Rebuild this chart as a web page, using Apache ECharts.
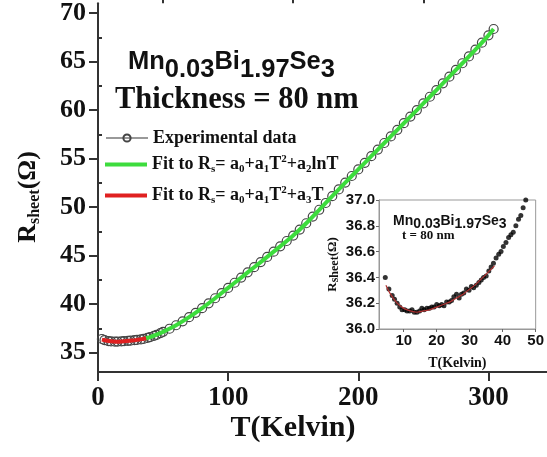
<!DOCTYPE html>
<html>
<head>
<meta charset="utf-8">
<script src="https://cdn.jsdelivr.net/npm/echarts@6/dist/echarts.min.js"></script>
<style>html,body{margin:0;padding:0;background:#fff}#c{width:547px;height:457px}</style>
</head>
<body>
<div id="c"></div>
<script>
// ---- Main chart data ----
const mainT = [3,5,8,10,13,15,18,20,23,25,28,30,33,35,38,40,43,45,48,50,55,60,65,70,75,80,85,90,95,100,105,110,115,120,125,130,135,140,145,150,155,160,165,170,175,180,185,190,195,200,205,210,215,220,225,230,235,240,245,250,255,260,265,270,275,280,285,290,295,300,304];
const mainR = [36.40,36.28,36.19,36.15,36.13,36.14,36.16,36.18,36.21,36.23,36.28,36.31,36.36,36.41,36.51,36.60,36.73,36.83,37.00,37.14,37.46,37.82,38.22,38.65,39.10,39.58,40.08,40.60,41.13,41.67,42.20,42.73,43.27,43.80,44.33,44.86,45.40,45.95,46.50,47.06,47.68,48.33,49.02,49.72,50.42,51.12,51.82,52.52,53.20,53.88,54.56,55.24,55.92,56.60,57.28,57.96,58.64,59.32,60.00,60.68,61.37,62.06,62.75,63.44,64.13,64.82,65.52,66.22,66.94,67.70,68.35];
const fitLnT_T = [36,40,45,50,60,70,80,90,100,110,120,130,140,150,160,170,180,190,200,210,220,230,240,250,260,270,280,290,300,304];
const fitLnT_R = [36.45,36.60,36.85,37.14,37.82,38.65,39.58,40.60,41.67,42.73,43.80,44.86,45.95,47.06,48.33,49.72,51.12,52.52,53.88,55.24,56.60,57.96,59.32,60.68,62.06,63.44,64.82,66.22,67.70,68.35];
const fitT_T = [3,6,10,14,18,22,26,30,34,37];
const fitT_R = [36.34,36.25,36.16,36.13,36.15,36.19,36.24,36.31,36.39,36.48];
const mainXMajor = [0,100,200,300];
const mainXMinor = [50,150,250];
const mainYMajor = [35,40,45,50,55,60,65,70];
const mainYMinor = [37.5,42.5,47.5,52.5,57.5,62.5,67.5];

// ---- Inset data ----
const insetT = [4.4,5.5,6.5,7.2,8.0,8.8,9.5,10.3,11.0,11.8,12.5,13.2,14.0,14.8,15.5,16.2,17.0,17.8,18.5,19.2,20.0,20.8,21.5,22.2,23.0,23.8,24.5,25.2,26.0,26.8,27.5,28.2,29.0,29.8,30.5,31.2,32.0,32.8,33.5,34.2,35.0,35.8,36.5,37.2,38.0,38.8,39.5,40.2,41.0,41.8,42.5,43.2,44.0,44.8,45.5,46.2,47.0];
const insetR = [36.40,36.31,36.26,36.23,36.20,36.17,36.15,36.15,36.14,36.14,36.15,36.13,36.13,36.14,36.16,36.15,36.16,36.16,36.17,36.17,36.19,36.18,36.19,36.18,36.21,36.21,36.22,36.25,36.27,36.24,36.27,36.28,36.31,36.30,36.33,36.32,36.34,36.36,36.38,36.40,36.41,36.45,36.48,36.51,36.55,36.58,36.60,36.64,36.67,36.71,36.73,36.75,36.80,36.85,36.88,36.94,37.00];
const insetFitT = [4.6,6,8,10,12,14,16,18,20,22,24,26,28,30,32,34,36,37.5];
const insetFitR = [36.34,36.27,36.20,36.16,36.14,36.13,36.14,36.15,36.17,36.19,36.21,36.24,36.27,36.31,36.35,36.40,36.45,36.49];
const insetXTicks = [10,20,30,40,50];
const insetYTicks = [36.0,36.2,36.4,36.6,36.8,37.0];

const zip = (a,b) => a.map((v,i)=>[v,b[i]]);
const serif = 'Liberation Serif';
const sans = 'Liberation Sans';
const axisCol = '#333';

const chart = echarts.init(document.getElementById('c'), null, {renderer:'canvas'});

const legSub = {fontFamily:serif,fontWeight:'bold',fontSize:11,color:'#111',padding:[9,0,0,0]};
const legSup = {fontFamily:serif,fontWeight:'bold',fontSize:11,color:'#111',padding:[0,0,10,0]};
const legText = {fontFamily:serif,fontWeight:'bold',fontSize:18,color:'#111',rich:{s:legSub,p:legSup}};

const names = {
  exp:'Experimental data',
  g:'Fit to Rs= a0+a1T2+a2lnT',
  r:'Fit to Rs= a0+a1T2+a3T'
};
const fmt = n => {
  if (n === names.g) return 'Fit to R{s|s}= a{s|0}+a{s|1}T{p|2}+a{s|2}lnT';
  if (n === names.r) return 'Fit to R{s|s}= a{s|0}+a{s|1}T{p|2}+a{s|3}T';
  return n;
};
const barIcon = 'path://M0,0L42,0L42,4L0,4Z';

const option = {
  animation:false,
  backgroundColor:'#fff',
  grid:[
    {left:98, top:2, right:0, bottom:85},
    {left:379, top:200, right:5, bottom:128, show:true, borderColor:'#999', borderWidth:1, backgroundColor:'transparent'}
  ],
  xAxis:[
    {type:'value', gridIndex:0, min:0, max:345,
     axisLine:{lineStyle:{color:axisCol,width:2}},
     axisTick:{customValues:mainXMajor, length:9, lineStyle:{color:axisCol,width:2}},
     axisLabel:{customValues:mainXMajor, fontFamily:serif, fontWeight:'bold', fontSize:27, color:'#111', margin:13},
     splitLine:{show:false}},
    {type:'value', gridIndex:0, min:0, max:345,
     axisLine:{show:false},
     axisTick:{customValues:mainXMinor, length:4, lineStyle:{color:axisCol,width:2}},
     axisLabel:{show:false}, splitLine:{show:false}},
    {type:'value', gridIndex:1, min:2.5, max:50,
     axisLine:{lineStyle:{color:'#999',width:1}},
     axisTick:{customValues:insetXTicks, length:3, lineStyle:{color:'#666'}},
     axisLabel:{customValues:insetXTicks, fontFamily:sans, fontWeight:'bold', fontSize:15, color:'#111', margin:4},
     splitLine:{show:false},
     name:'T(Kelvin)', nameLocation:'middle', nameGap:27,
     nameTextStyle:{fontFamily:serif, fontWeight:'bold', fontSize:14, color:'#111'}}
  ],
  yAxis:[
    {type:'value', gridIndex:0, min:33, max:71,
     axisLine:{show:true, lineStyle:{color:axisCol,width:2}},
     axisTick:{show:true, customValues:mainYMajor, length:9, lineStyle:{color:axisCol,width:2}},
     axisLabel:{customValues:mainYMajor, fontFamily:serif, fontWeight:'bold', fontSize:26, color:'#111', margin:12},
     splitLine:{show:false}},
    {type:'value', gridIndex:0, min:33, max:71,
     axisLine:{show:false},
     axisTick:{show:true, customValues:mainYMinor, length:4, lineStyle:{color:axisCol,width:2}},
     axisLabel:{show:false}, splitLine:{show:false}},
    {type:'value', gridIndex:1, min:36.0, max:37.0,
     axisLine:{show:true, lineStyle:{color:'#999',width:1}},
     axisTick:{show:true, customValues:insetYTicks, length:3, lineStyle:{color:'#666'}},
     axisLabel:{customValues:insetYTicks, formatter:v=>v.toFixed(1), fontFamily:sans, fontWeight:'bold', fontSize:15, color:'#111', margin:4},
     splitLine:{show:false},
     name:'R{s|sheet}(Ω)', nameLocation:'middle', nameGap:38, nameRotate:90,
     nameTextStyle:{fontFamily:serif, fontWeight:'bold', fontSize:13, color:'#111',
       rich:{s:{fontFamily:serif, fontWeight:'bold', fontSize:12, color:'#111', padding:[4,0,0,0]}}}}
  ],
  legend:[
    {left:100, top:124, orient:'vertical', data:[names.exp], itemWidth:42, itemHeight:9, itemGap:0, textStyle:legText, formatter:fmt, selectedMode:false},
    {left:100, top:149, orient:'vertical', data:[{name:names.g, icon:barIcon}], itemWidth:42, itemHeight:4, itemGap:0, textStyle:legText, formatter:fmt, selectedMode:false},
    {left:100, top:180, orient:'vertical', data:[{name:names.r, icon:barIcon}], itemWidth:42, itemHeight:4, itemGap:0, textStyle:legText, formatter:fmt, selectedMode:false}
  ],
  series:[
    {name:names.exp, type:'line', xAxisIndex:0, yAxisIndex:0, data:zip(mainT,mainR),
     symbol:'circle', symbolSize:9, showAllSymbol:true,
     lineStyle:{color:'#999',width:1},
     itemStyle:{color:'rgba(255,255,255,0)', borderColor:'#444', borderWidth:1.2}, z:2},
    {name:names.g, type:'line', xAxisIndex:0, yAxisIndex:0, data:zip(fitLnT_T,fitLnT_R),
     symbol:'none', smooth:0.3, lineStyle:{color:'#3ddc3d',width:4}, itemStyle:{color:'#3ddc3d'}, z:3},
    {name:names.r, type:'line', xAxisIndex:0, yAxisIndex:0, data:zip(fitT_T,fitT_R),
     symbol:'none', smooth:0.3, lineStyle:{color:'#e02020',width:4}, itemStyle:{color:'#e02020'}, z:3},
    {name:'inset data', type:'scatter', xAxisIndex:2, yAxisIndex:2, data:zip(insetT,insetR),
     symbol:'circle', symbolSize:5, itemStyle:{color:'#000'}, z:2},
    {name:'inset fit', type:'line', xAxisIndex:2, yAxisIndex:2, data:zip(insetFitT,insetFitR),
     symbol:'none', smooth:0.3, lineStyle:{color:'#b03030',width:1.2}, z:3}
  ],
  graphic:[
    {type:'text', x:128, y:62, style:{
      text:'Mn{d|0.03}Bi{d|1.97}Se{d|3}', fontFamily:sans, fontWeight:'bold', fontSize:25.5, fill:'#111',
      verticalAlign:'middle',
      rich:{d:{fontFamily:sans, fontWeight:'bold', fontSize:25.5, fill:'#111', padding:[16,0,0,0]}}}},
    {type:'text', x:115, y:100, style:{
      text:'Thickness = 80 nm', fontFamily:serif, fontWeight:'bold', fontSize:30.5, fill:'#111', verticalAlign:'middle'}},
    {type:'text', x:293, y:428, style:{
      text:'T(Kelvin)', fontFamily:serif, fontWeight:'bold', fontSize:30, fill:'#111', align:'center', verticalAlign:'middle'}},
    {type:'text', x:28, y:197, rotation:Math.PI/2, style:{
      text:'R{s|sheet}(Ω)', fontFamily:serif, fontWeight:'bold', fontSize:26, fill:'#111', align:'center', verticalAlign:'middle',
      rich:{s:{fontFamily:serif, fontWeight:'bold', fontSize:16, fill:'#111', padding:[14,0,0,0]}}}},
    {type:'text', x:393, y:221, style:{
      text:'Mn{d|0.03}Bi{d|1.97}Se{d|3}', fontFamily:sans, fontWeight:'bold', fontSize:14, fill:'#111',
      verticalAlign:'middle',
      rich:{d:{fontFamily:sans, fontWeight:'bold', fontSize:14, fill:'#111', padding:[7,0,0,0]}}}},
    {type:'text', x:402, y:236, style:{
      text:'t = 80 nm', fontFamily:serif, fontWeight:'bold', fontSize:13, fill:'#111', verticalAlign:'middle'}}
  ]
};
chart.setOption(option);
</script>
</body>
</html>
